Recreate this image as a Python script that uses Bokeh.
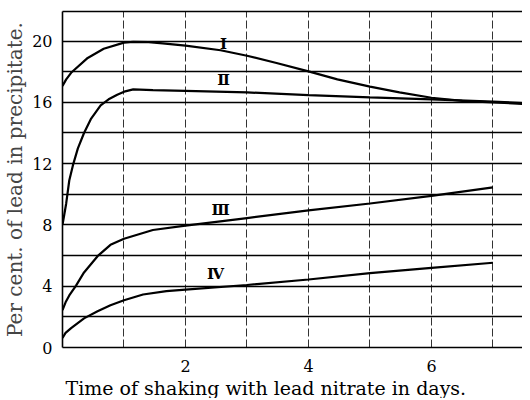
from bokeh.plotting import figure
from bokeh.models import FixedTicker, LinearAxis, Title, Range1d, ColumnDataSource
from bokeh.core.properties import value
from bokeh.embed import file_html
from bokeh.resources import INLINE

# ---- data ----
x_I = [0, 0.06, 0.14, 0.41, 0.67, 1.0, 1.15, 1.4, 1.63, 2.0, 2.57, 3.0, 3.48, 4.0, 4.47, 5.0, 5.48, 6.0, 6.5, 7.0, 7.5]
y_I = [17.07, 17.5, 17.93, 18.9, 19.5, 19.9, 19.95, 19.93, 19.85, 19.7, 19.4, 19.04, 18.57, 18.02, 17.5, 17.03, 16.65, 16.3, 16.1, 16.0, 15.9]

x_II = [0, 0.03, 0.06, 0.11, 0.17, 0.25, 0.35, 0.46, 0.62, 0.75, 0.89, 1.02, 1.15, 1.47, 2.0, 3.0, 4.0, 5.0, 6.0, 7.0, 7.5]
y_II = [8.0, 8.7, 9.4, 10.9, 11.9, 13.0, 14.0, 14.9, 15.8, 16.2, 16.5, 16.72, 16.85, 16.8, 16.75, 16.65, 16.47, 16.33, 16.2, 16.05, 15.95]

x_III = [0, 0.05, 0.11, 0.22, 0.35, 0.57, 0.78, 1.0, 1.47, 2.0, 3.0, 4.0, 5.0, 6.0, 7.0]
y_III = [2.44, 2.95, 3.4, 4.04, 4.9, 5.96, 6.7, 7.1, 7.67, 7.95, 8.45, 8.95, 9.4, 9.9, 10.45]

x_IV = [0, 0.05, 0.14, 0.35, 0.57, 0.78, 1.0, 1.31, 1.69, 2.0, 3.0, 4.0, 5.0, 6.0, 7.0]
y_IV = [0.62, 0.95, 1.26, 1.9, 2.37, 2.76, 3.08, 3.46, 3.68, 3.78, 4.08, 4.44, 4.85, 5.2, 5.53]

curve_names = ["Ⅰ", "Ⅱ", "Ⅲ", "Ⅳ"]
name_x = [2.62, 2.62, 2.57, 2.49]
name_y = [19.8, 17.46, 9.0, 4.79]

x_ticks = [2, 4, 6]
y_ticks = [0, 4, 8, 12, 16, 20]
x_grid = [1, 2, 3, 4, 5, 6, 7]
y_grid = [2, 4, 6, 8, 10, 12, 14, 16, 18, 20]

x_title = "Time of shaking with lead nitrate in days."
y_title = "Per cent. of lead in precipitate."

FONT = "DejaVu Serif"

p = figure(width=522, height=398, output_backend="svg", toolbar_location=None,
           x_range=Range1d(0, 7.48), y_range=Range1d(0, 21.93),
           min_border_left=55, min_border_right=0, min_border_top=11, min_border_bottom=0)
p.outline_line_color = None
p.background_fill_color = "white"
p.border_fill_color = "white"

# axes
p.xaxis.ticker = FixedTicker(ticks=x_ticks)
p.yaxis.ticker = FixedTicker(ticks=y_ticks)
for ax in (p.xaxis[0], p.yaxis[0]):
    ax.axis_line_color = "black"
    ax.axis_line_width = 1.6
    ax.major_tick_line_color = None
    ax.minor_tick_line_color = None
    ax.major_label_text_font = FONT
    ax.major_label_text_font_size = "16px"
    ax.major_label_text_color = "black"
p.xaxis.major_label_standoff = 6
p.yaxis.major_label_standoff = 4
p.yaxis.axis_label = y_title
p.yaxis.axis_label_text_font = FONT
p.yaxis.axis_label_text_font_size = "20px"
p.yaxis.axis_label_text_font_style = "normal"
p.yaxis.axis_label_standoff = 2

top = LinearAxis(ticker=FixedTicker(ticks=[]), axis_line_color="black", axis_line_width=1.6,
                 major_tick_line_color=None, minor_tick_line_color=None,
                 major_label_text_font_size="0px", major_label_standoff=0)
p.add_layout(top, "above")

p.add_layout(Title(text=x_title, text_font=FONT, text_font_size="19px", text_font_style="normal",
                   text_color="black", align="left", offset=3, standoff=0), "below")

# grids
p.xgrid.ticker = FixedTicker(ticks=x_grid)
p.xgrid.grid_line_color = "#333333"
p.xgrid.grid_line_width = 1
p.xgrid.grid_line_dash = "8 3"
p.ygrid.ticker = FixedTicker(ticks=y_grid)
p.ygrid.grid_line_color = "black"
p.ygrid.grid_line_width = 1.5

# curves
for xs, ys in ((x_I, y_I), (x_II, y_II), (x_III, y_III), (x_IV, y_IV)):
    p.line(xs, ys, line_color="black", line_width=2.2)

src = ColumnDataSource(dict(x=name_x, y=name_y, t=curve_names))
p.text("x", "y", text="t", source=src, text_font=value(FONT), text_font_size="15px",
       text_font_style="bold", text_align="center", text_baseline="middle", text_color="black")

open("out.html", "w").write(file_html(p, INLINE))
